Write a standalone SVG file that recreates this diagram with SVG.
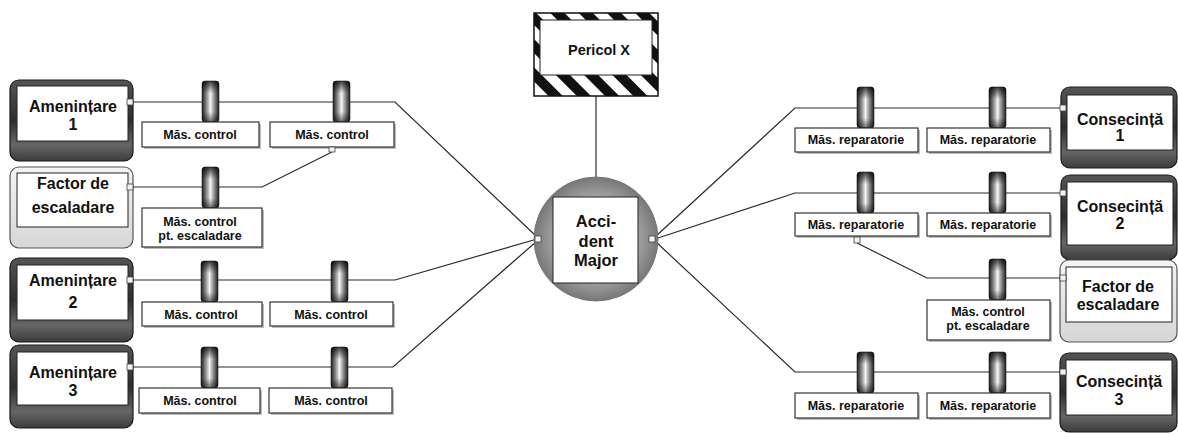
<svg xmlns="http://www.w3.org/2000/svg" xmlns:xlink="http://www.w3.org/1999/xlink" width="1178" height="434" viewBox="0 0 1178 434">
<style>
.conn{fill:none;stroke:#2a2a2a;stroke-width:1.2}
.port{fill:#f2f2f2;stroke:#444;stroke-width:0.8}
.dark{fill:url(#darkG);stroke:#1a1a1a;stroke-width:1.2}
.light{fill:url(#lightG);stroke:#555;stroke-width:1.2}
.inner{fill:#fff;stroke:#222;stroke-width:1}
.lbl{fill:#fff;stroke:#222;stroke-width:1.1}
.shd{fill:#bdbdbd}
.nt{font-family:"Liberation Sans",Arial,sans-serif;font-weight:bold;font-size:16px;fill:#111;text-anchor:middle}
.lt{font-family:"Liberation Sans",Arial,sans-serif;font-weight:bold;font-size:12.5px;fill:#111;text-anchor:middle}
</style>
<defs>
<linearGradient id="darkG" x1="0" y1="0" x2="0" y2="1">
<stop offset="0" stop-color="#555"/><stop offset="0.5" stop-color="#2e2e2e"/><stop offset="0.8" stop-color="#666"/><stop offset="1" stop-color="#3c3c3c"/>
</linearGradient>
<linearGradient id="lightG" x1="0" y1="0" x2="0" y2="1">
<stop offset="0" stop-color="#f4f4f4"/><stop offset="1" stop-color="#d6d6d6"/>
</linearGradient>
<linearGradient id="barG" x1="0" y1="0" x2="1" y2="0">
<stop offset="0" stop-color="#1e1e1e"/><stop offset="0.3" stop-color="#999"/><stop offset="0.5" stop-color="#f4f4f4"/><stop offset="0.7" stop-color="#999"/><stop offset="1" stop-color="#1e1e1e"/>
</linearGradient>
<linearGradient id="barV" x1="0" y1="0" x2="0" y2="1">
<stop offset="0" stop-color="#000" stop-opacity="0.75"/><stop offset="0.3" stop-color="#000" stop-opacity="0"/><stop offset="0.75" stop-color="#000" stop-opacity="0"/><stop offset="1" stop-color="#000" stop-opacity="0.55"/>
</linearGradient>
<radialGradient id="circG" cx="0.5" cy="0.5" r="0.5">
<stop offset="0" stop-color="#c4c4c4"/><stop offset="0.7" stop-color="#a0a0a0"/><stop offset="1" stop-color="#777"/>
</radialGradient>
<pattern id="haz" width="20" height="20" patternUnits="userSpaceOnUse" patternTransform="rotate(-45)">
<rect width="20" height="20" fill="#fff"/><rect width="10" height="20" fill="#111"/>
</pattern>
<g id="bar">
<rect x="0" y="0" width="17" height="41" rx="3" fill="url(#barG)" stroke="#222" stroke-width="0.6"/>
<rect x="0" y="0" width="17" height="41" rx="3" fill="url(#barV)"/>
</g>
</defs>
<rect width="1178" height="434" fill="#fff"/>

<g id="connectors">
<polyline class="conn" points="133,102 395,102 537,237"/>
<polyline class="conn" points="332,152 262,187 133,187"/>
<polyline class="conn" points="133,280 395,280 537,239"/>
<polyline class="conn" points="133,367 393,367 537,241"/>
<line class="conn" x1="596" y1="96" x2="596" y2="178"/>
<polyline class="conn" points="1061,108 795,108 655,237"/>
<polyline class="conn" points="1061,193 795,193 655,239"/>
<polyline class="conn" points="857,243 927,278 1061,278"/>
<polyline class="conn" points="1061,372 795,372 655,241"/>
</g>

<g id="barriers">
<use xlink:href="#bar" x="202" y="81"/>
<use xlink:href="#bar" x="333" y="81"/>
<use xlink:href="#bar" x="202" y="167"/>
<use xlink:href="#bar" x="201" y="261"/>
<use xlink:href="#bar" x="331" y="261"/>
<use xlink:href="#bar" x="201" y="347"/>
<use xlink:href="#bar" x="331" y="347"/>
<use xlink:href="#bar" x="857" y="87"/>
<use xlink:href="#bar" x="989" y="87"/>
<use xlink:href="#bar" x="857" y="172"/>
<use xlink:href="#bar" x="989" y="172"/>
<use xlink:href="#bar" x="989" y="259"/>
<use xlink:href="#bar" x="857" y="352"/>
<use xlink:href="#bar" x="989" y="352"/>
</g>

<g id="labels">
<g id="l1a"><rect class="shd" x="144" y="124" width="117" height="25"/><rect class="lbl" x="142" y="122" width="117" height="25"/><text class="lt" x="200" y="139">Măs. control</text></g>
<g id="l1b"><rect class="shd" x="272" y="124" width="124" height="25"/><rect class="lbl" x="270" y="122" width="124" height="25"/><text class="lt" x="332" y="139">Măs. control</text><rect class="port" x="329" y="147" width="6" height="5"/></g>
<g id="lfa"><rect class="shd" x="144" y="210" width="120" height="39"/><rect class="lbl" x="142" y="208" width="120" height="39"/><text class="lt" x="200" y="226">Măs. control</text><text class="lt" x="200" y="240">pt. escaladare</text></g>
<g id="l2a"><rect class="shd" x="144" y="304" width="120" height="24"/><rect class="lbl" x="142" y="302" width="120" height="24"/><text class="lt" x="201" y="319">Măs. control</text></g>
<g id="l2b"><rect class="shd" x="272" y="304" width="123" height="24"/><rect class="lbl" x="270" y="302" width="123" height="24"/><text class="lt" x="331" y="319">Măs. control</text></g>
<g id="l3a"><rect class="shd" x="141" y="390" width="121" height="25"/><rect class="lbl" x="139" y="388" width="121" height="25"/><text class="lt" x="200" y="405">Măs. control</text></g>
<g id="l3b"><rect class="shd" x="271" y="390" width="123" height="25"/><rect class="lbl" x="269" y="388" width="123" height="25"/><text class="lt" x="331" y="405">Măs. control</text></g>
<g id="r1a"><rect class="shd" x="797" y="130" width="123" height="24"/><rect class="lbl" x="795" y="128" width="123" height="24"/><text class="lt" x="856" y="144">Măs. reparatorie</text></g>
<g id="r1b"><rect class="shd" x="929" y="130" width="123" height="24"/><rect class="lbl" x="927" y="128" width="123" height="24"/><text class="lt" x="988" y="144">Măs. reparatorie</text></g>
<g id="r2a"><rect class="shd" x="797" y="215" width="123" height="23"/><rect class="lbl" x="795" y="213" width="123" height="23"/><text class="lt" x="856" y="229">Măs. reparatorie</text><rect class="port" x="854" y="237" width="6" height="6"/></g>
<g id="r2b"><rect class="shd" x="929" y="215" width="123" height="23"/><rect class="lbl" x="927" y="213" width="123" height="23"/><text class="lt" x="988" y="229">Măs. reparatorie</text></g>
<g id="rfa"><rect class="shd" x="929" y="302" width="123" height="40"/><rect class="lbl" x="927" y="300" width="123" height="40"/><text class="lt" x="988" y="316">Măs. control</text><text class="lt" x="988" y="330">pt. escaladare</text></g>
<g id="r3a"><rect class="shd" x="797" y="395" width="123" height="25"/><rect class="lbl" x="795" y="393" width="123" height="25"/><text class="lt" x="856" y="410">Măs. reparatorie</text></g>
<g id="r3b"><rect class="shd" x="929" y="395" width="123" height="25"/><rect class="lbl" x="927" y="393" width="123" height="25"/><text class="lt" x="988" y="410">Măs. reparatorie</text></g>
</g>

<g id="amenintare1">
<rect class="dark" x="10" y="80" width="123" height="81" rx="9"/>
<rect class="inner" x="17" y="86" width="111" height="55"/>
<text class="nt" x="73" y="112">Amenințare</text><text class="nt" x="73" y="130">1</text>
<rect class="port" x="127" y="99" width="6" height="6"/>
</g>
<g id="factorL">
<rect class="light" x="10" y="167" width="123" height="81" rx="9"/>
<rect class="inner" x="17" y="173" width="111" height="54"/>
<text class="nt" x="73" y="189">Factor de</text><text class="nt" x="73" y="213">escaladare</text>
<rect class="port" x="127" y="184" width="6" height="6"/>
</g>
<g id="amenintare2">
<rect class="dark" x="10" y="258" width="123" height="84" rx="9"/>
<rect class="inner" x="17" y="265" width="111" height="55"/>
<text class="nt" x="73" y="286">Amenințare</text><text class="nt" x="73" y="308">2</text>
<rect class="port" x="127" y="277" width="6" height="6"/>
</g>
<g id="amenintare3">
<rect class="dark" x="10" y="345" width="123" height="83" rx="9"/>
<rect class="inner" x="17" y="352" width="111" height="53"/>
<text class="nt" x="73" y="378">Amenințare</text><text class="nt" x="73" y="396">3</text>
<rect class="port" x="127" y="364" width="6" height="6"/>
</g>

<g id="pericol">
<rect x="534" y="13" width="124" height="83" fill="url(#haz)" stroke="#111" stroke-width="1.5"/>
<rect class="inner" x="540" y="20" width="112" height="55"/>
<text class="nt" x="599" y="55" style="font-size:14.5px">Pericol X</text>
</g>
<g id="accident">
<circle cx="596" cy="239" r="62" fill="url(#circG)" stroke="#777" stroke-width="1"/>
<rect class="inner" x="553" y="197" width="85" height="86"/>
<text class="nt" x="596" y="227" style="font-size:16.5px">Acci-</text>
<text class="nt" x="596" y="247" style="font-size:16.5px">dent</text>
<text class="nt" x="596" y="266" style="font-size:16.5px">Major</text>
<rect class="port" x="535" y="236" width="6" height="6"/>
<rect class="port" x="649" y="236" width="6" height="6"/>
</g>

<g id="consecinta1">
<rect class="dark" x="1061" y="87" width="116" height="81" rx="9"/>
<rect class="inner" x="1067" y="95" width="106" height="55"/>
<text class="nt" x="1120" y="125">Consecință</text><text class="nt" x="1120" y="141">1</text>
<rect class="port" x="1060" y="105" width="6" height="6"/>
</g>
<g id="consecinta2">
<rect class="dark" x="1061" y="175" width="116" height="85" rx="9"/>
<rect class="inner" x="1067" y="182" width="106" height="63"/>
<text class="nt" x="1120" y="212">Consecință</text><text class="nt" x="1120" y="229">2</text>
<rect class="port" x="1060" y="190" width="6" height="6"/>
</g>
<g id="factorR">
<rect class="light" x="1060" y="260" width="117" height="82" rx="9"/>
<rect class="inner" x="1066" y="267" width="106" height="55"/>
<text class="nt" x="1118" y="292">Factor de</text><text class="nt" x="1118" y="310">escaladare</text>
<rect class="port" x="1060" y="275" width="6" height="6"/>
</g>
<g id="consecinta3">
<rect class="dark" x="1060" y="353" width="117" height="79" rx="9"/>
<rect class="inner" x="1066" y="360" width="106" height="55"/>
<text class="nt" x="1119" y="387">Consecință</text><text class="nt" x="1119" y="405">3</text>
<rect class="port" x="1060" y="369" width="6" height="6"/>
</g>
</svg>
